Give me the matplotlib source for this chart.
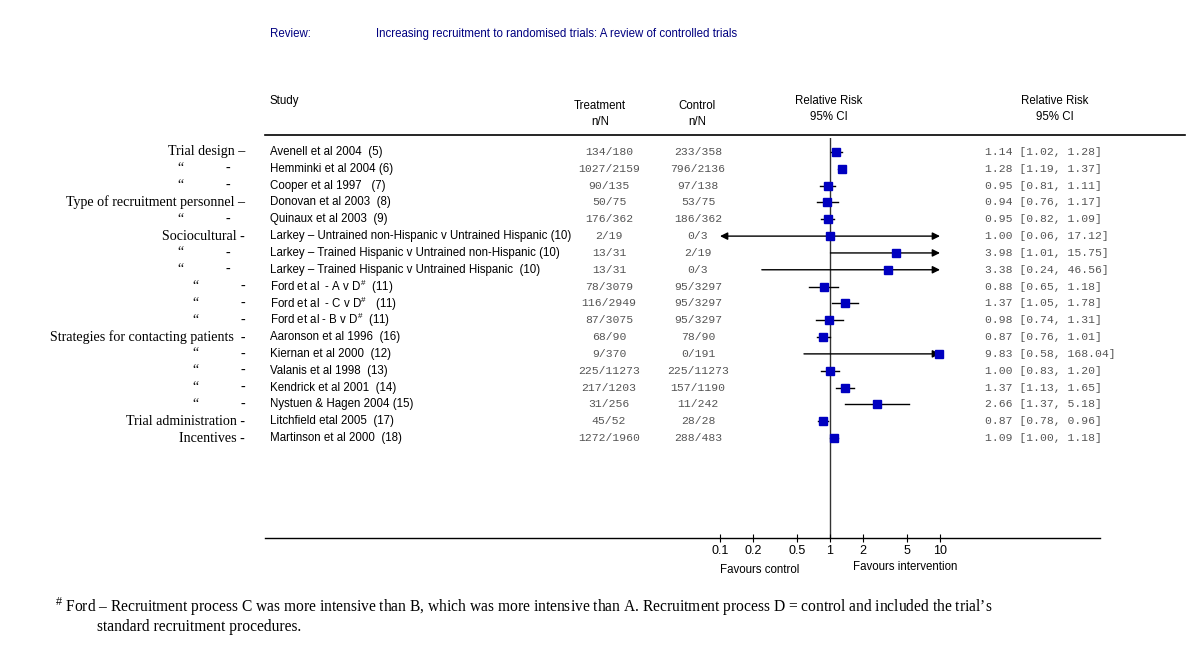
import matplotlib
matplotlib.use("Agg")
import matplotlib.pyplot as plt
import matplotlib.transforms as mtransforms

# data
studies = [
    "Avenell et al 2004  (5)", "Hemminki et al 2004 (6)", "Cooper et al 1997   (7)",
    "Donovan et al 2003  (8)", "Quinaux et al 2003  (9)",
    "Larkey \u2013 Untrained non-Hispanic v Untrained Hispanic (10)",
    "Larkey \u2013 Trained Hispanic v Untrained non-Hispanic (10)",
    "Larkey \u2013 Trained Hispanic v Untrained Hispanic  (10)",
    "Ford et al  - A v D$^{\\#}$  (11)", "Ford et al  - C v D$^{\\#}$   (11)",
    "Ford et al - B v D$^{\\#}$  (11)", "Aaronson et al 1996  (16)",
    "Kiernan et al 2000  (12)", "Valanis et al 1998  (13)", "Kendrick et al 2001  (14)",
    "Nystuen & Hagen 2004 (15)", "Litchfield etal 2005  (17)", "Martinson et al 2000  (18)",
]
categories = [
    "Trial design \u2013", None, None, "Type of recruitment personnel \u2013", None,
    "Sociocultural -", None, None, None, None, None,
    "Strategies for contacting patients  -", None, None, None, None,
    "Trial administration -", "Incentives -",
]
treatment = ["134/180", "1027/2159", "90/135", "50/75", "176/362", "2/19", "13/31", "13/31",
             "78/3079", "116/2949", "87/3075", "68/90", "9/370", "225/11273", "217/1203",
             "31/256", "45/52", "1272/1960"]
control = ["233/358", "796/2136", "97/138", "53/75", "186/362", "0/3", "2/19", "0/3",
           "95/3297", "95/3297", "95/3297", "78/90", "0/191", "225/11273", "157/1190",
           "11/242", "28/28", "288/483"]
rr = [1.14, 1.28, 0.95, 0.94, 0.95, 1.00, 3.98, 3.38, 0.88, 1.37, 0.98, 0.87, 9.83, 1.00,
      1.37, 2.66, 0.87, 1.09]
lo = [1.02, 1.19, 0.81, 0.76, 0.82, 0.06, 1.01, 0.24, 0.65, 1.05, 0.74, 0.76, 0.58, 0.83,
      1.13, 1.37, 0.78, 1.00]
hi = [1.28, 1.37, 1.11, 1.17, 1.09, 17.12, 15.75, 46.56, 1.18, 1.78, 1.31, 1.01, 168.04,
      1.20, 1.65, 5.18, 0.96, 1.18]
ticks = [0.1, 0.2, 0.5, 1, 2, 5, 10]

W, H = 1200, 659
fig = plt.figure(figsize=(12, 6.59), dpi=100)


def fx(px):
    return px / W


def fy(py):
    return 1 - py / H


sans = "Liberation Sans"
serif = "Liberation Serif"
mono = "Liberation Mono"
fs = 8.3
plt.rcParams["mathtext.fontset"] = "custom"
plt.rcParams["mathtext.rm"] = sans
plt.rcParams["mathtext.it"] = sans

# forest axes: x from 265px to 1100px, 1 at 830px, 110px per decade
left_px, right_px, one_px, dec = 265, 1100, 830, 110.0
top_px, bot_px = 138, 538
row0, step = 152, (438 - 152) / 17
ax = fig.add_axes([fx(left_px), fy(bot_px), (right_px - left_px) / W, (bot_px - top_px) / H])
ax.set_xscale("log")
ax.set_xlim(10 ** ((left_px - one_px) / dec), 10 ** ((right_px - one_px) / dec))
ax.set_ylim((bot_px - row0) / step, (top_px - row0) / step)
for s in ["top", "left", "right"]:
    ax.spines[s].set_visible(False)
ax.spines["bottom"].set_linewidth(1)
ax.set_yticks([])
ax.set_xticks(ticks)
ax.set_xticklabels([f"{t:g}" for t in ticks], fontfamily=sans, fontsize=9)
ax.minorticks_off()
ax.tick_params(axis="x", direction="inout", length=6, width=0.8, pad=2)
ax.axvline(1, color="#333333", lw=1, zorder=1)

cmin, cmax = 0.1, 10
for i in range(len(rr)):
    a, b = lo[i], hi[i]
    la, lb = max(a, cmin), min(b, cmax)
    if a < cmin or b > cmax:
        style = "<|-|>" if (a < cmin and b > cmax) else ("-|>" if b > cmax else "<|-")
        ax.annotate("", xy=(lb, i), xytext=(la, i),
                    arrowprops=dict(arrowstyle=style, color="black", lw=1,
                                    mutation_scale=11, shrinkA=0, shrinkB=0))
    else:
        ax.plot([la, lb], [i, i], color="black", lw=1, zorder=2)
    ax.plot(rr[i], i, marker="s", markersize=5.5, color="#0000c0", zorder=3)

# row texts
tr = mtransforms.blended_transform_factory(fig.transFigure, ax.transData)
ditto_pos = {1: (180, 228), 2: (180, 228), 4: (180, 228), 6: (180, 228), 7: (180, 228),
             8: (195, 243), 9: (195, 243), 10: (195, 243), 12: (195, 243), 13: (195, 243),
             14: (195, 243), 15: (195, 243)}
for i in range(len(studies)):
    ax.text(fx(270), i, studies[i], transform=tr, fontfamily=sans, fontsize=fs,
            ha="left", va="center")
    ax.text(fx(609), i, treatment[i], transform=tr, fontfamily=mono, fontsize=8.2,
            color="#555555", ha="center", va="center")
    ax.text(fx(698), i, control[i], transform=tr, fontfamily=mono, fontsize=8.2,
            color="#555555", ha="center", va="center")
    ax.text(fx(985), i, f"{rr[i]:.2f} [{lo[i]:.2f}, {hi[i]:.2f}]", transform=tr,
            fontfamily=mono, fontsize=8.2, color="#555555", ha="left", va="center")
    if categories[i]:
        ax.text(fx(245), i, categories[i], transform=tr, fontfamily=serif, fontsize=10.1,
                ha="right", va="center")
    else:
        qx, dx = ditto_pos[i]
        ax.text(fx(qx), i, "\u201c", transform=tr, fontfamily=serif, fontsize=10,
                ha="center", va="center")
        ax.text(fx(dx), i, "-", transform=tr, fontfamily=serif, fontsize=10,
                ha="center", va="center")

# header
fig.add_artist(plt.Line2D([fx(265), fx(1185)], [fy(135), fy(135)], color="black", lw=1.2))
fig.text(fx(270), fy(101), "Study", fontfamily=sans, fontsize=fs, ha="left", va="center")
fig.text(fx(600), fy(114), "Treatment\nn/N", fontfamily=sans, fontsize=fs, ha="center",
         va="center", linespacing=1.5)
fig.text(fx(697), fy(114), "Control\nn/N", fontfamily=sans, fontsize=fs, ha="center",
         va="center", linespacing=1.5)
fig.text(fx(829), fy(109), "Relative Risk\n95% CI", fontfamily=sans, fontsize=fs,
         ha="center", va="center", linespacing=1.5)
fig.text(fx(1055), fy(109), "Relative Risk\n95% CI", fontfamily=sans, fontsize=fs,
         ha="center", va="center", linespacing=1.5)

fig.text(fx(270), fy(34), "Review:", fontfamily=sans, fontsize=fs, color="#000080",
         ha="left", va="center")
fig.text(fx(376), fy(34), "Increasing recruitment to randomised trials: A review of controlled trials",
         fontfamily=sans, fontsize=fs, color="#000080", ha="left", va="center")

fig.text(fx(760), fy(570), "Favours control", fontfamily=sans, fontsize=fs, ha="center", va="center")
fig.text(fx(905), fy(567), "Favours intervention", fontfamily=sans, fontsize=fs, ha="center",
         va="center")

# footnote
fig.text(fx(55), fy(607), "$^{\\#}$ Ford \u2013 Recruitment process C was more intensive than B, "
         "which was more intensive than A. Recruitment process D = control and included the trial\u2019s",
         fontfamily=serif, fontsize=11.2, ha="left", va="center")
fig.text(fx(97), fy(627), "standard recruitment procedures.", fontfamily=serif, fontsize=11.2,
         ha="left", va="center")

fig.savefig("out.png", dpi=100, facecolor="white")
